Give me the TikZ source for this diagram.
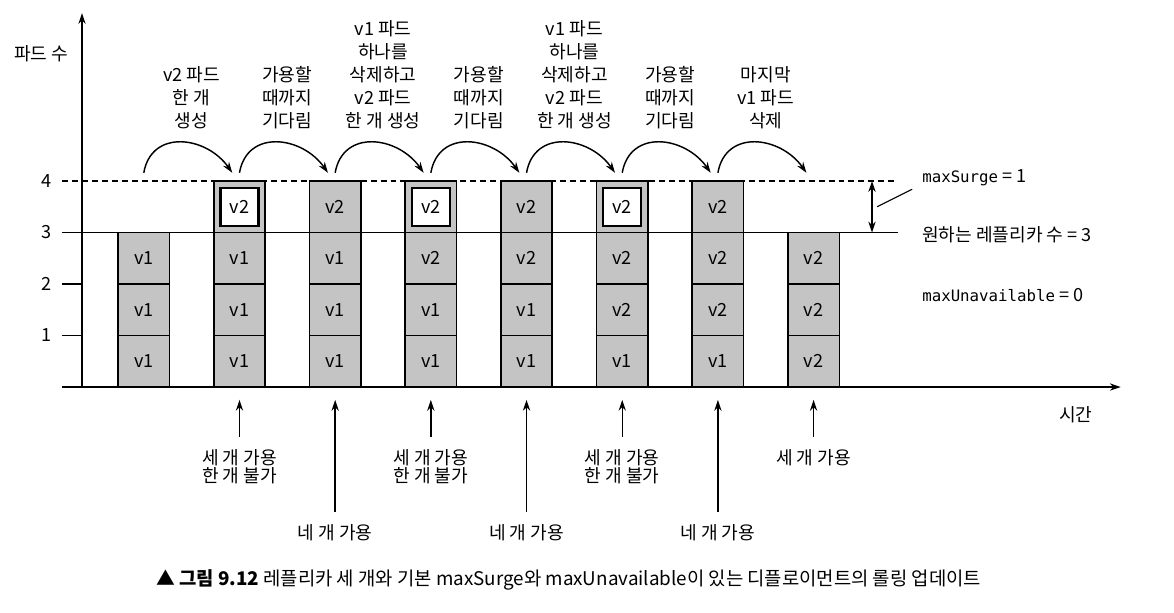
\documentclass[tikz,border=0pt]{standalone}
\usepackage{fontspec}
\setmainfont{Noto Sans CJK KR}
\newfontfamily\monofont{DejaVu Sans Mono}
\usepackage{tikz}
\usetikzlibrary{positioning, arrows.meta}
\definecolor{podgray}{gray}{0.77}

\begin{document}
\begin{tikzpicture}[
    font=\fontsize{10}{12}\selectfont,
    >={Stealth[length=6pt,width=4pt]},
    pod/.style={draw, line width=0.9pt, fill=podgray, minimum width=1cm, minimum height=1cm, inner sep=0pt, outer sep=0pt},
    newbox/.style={draw, line width=1.3pt, fill=white, minimum width=0.74cm, minimum height=0.74cm, inner sep=0pt},
    toplbl/.style={anchor=south, align=center, inner sep=0pt, font=\fontsize{10}{12.8}\selectfont},
    botlbl/.style={anchor=north, align=center, inner sep=0pt, font=\fontsize{10}{10.4}\selectfont},
    hop/.style={->, line width=0.8pt, out=80, in=125, looseness=1.3},
    uparrow/.style={->, line width=0.8pt, shorten <=0.23cm}
]
    \useasboundingbox (-1.592,-4.369) rectangle (21.204,7.515);

    % Assi
    \coordinate (O) at (0,0);
    \coordinate (xstart) at (-0.388,0);
    \coordinate (xend) at (20.17,0);
    \coordinate (yend) at (0,7.26);
    \draw[line width=0.8pt, ->] (xstart) -- (xend);
    \draw[line width=0.8pt, ->] (O) -- (yend);
    \draw[line width=0.8pt] (-0.388,1) -- (0,1);
    \draw[line width=0.8pt] (-0.388,2) -- (0,2);
    \node (ylab) at (-0.79,6.48) {파드 수};
    \node (xlab) at (19.30,-0.54) {시간};
    \node (t1) at (-0.68,1) {1};
    \node (t2) at (-0.68,2) {2};
    \node (t3) at (-0.68,3) {3};
    \node (t4) at (-0.68,4) {4};

    % Livelli 3 e 4
    \draw[line width=0.7pt, dash pattern=on 3.3pt off 2.2pt] (-0.388,4) -- (15.79,4);
    \draw[line width=0.7pt] (-0.388,3) -- (15.84,3);

    % Colonna 1
    \node[pod] (p11) at (1.2,0.5) {v1};
    \node[pod, above=0pt of p11] (p12) {v1};
    \node[pod, above=0pt of p12] (p13) {v1};

    % Colonna 2
    \node[pod] (p21) at (3.058,0.5) {v1};
    \node[pod, above=0pt of p21] (p22) {v1};
    \node[pod, above=0pt of p22] (p23) {v1};
    \node[pod, above=0pt of p23] (p24) {};
    \node[newbox] (n2) at (p24) {v2};

    % Colonna 3
    \node[pod] (p31) at (4.916,0.5) {v1};
    \node[pod, above=0pt of p31] (p32) {v1};
    \node[pod, above=0pt of p32] (p33) {v1};
    \node[pod, above=0pt of p33] (p34) {v2};

    % Colonna 4
    \node[pod] (p41) at (6.774,0.5) {v1};
    \node[pod, above=0pt of p41] (p42) {v1};
    \node[pod, above=0pt of p42] (p43) {v2};
    \node[pod, above=0pt of p43] (p44) {};
    \node[newbox] (n4) at (p44) {v2};

    % Colonna 5
    \node[pod] (p51) at (8.632,0.5) {v1};
    \node[pod, above=0pt of p51] (p52) {v1};
    \node[pod, above=0pt of p52] (p53) {v2};
    \node[pod, above=0pt of p53] (p54) {v2};

    % Colonna 6
    \node[pod] (p61) at (10.490,0.5) {v1};
    \node[pod, above=0pt of p61] (p62) {v2};
    \node[pod, above=0pt of p62] (p63) {v2};
    \node[pod, above=0pt of p63] (p64) {};
    \node[newbox] (n6) at (p64) {v2};

    % Colonna 7
    \node[pod] (p71) at (12.348,0.5) {v1};
    \node[pod, above=0pt of p71] (p72) {v2};
    \node[pod, above=0pt of p72] (p73) {v2};
    \node[pod, above=0pt of p73] (p74) {v2};

    % Colonna 8
    \node[pod] (p81) at (14.206,0.5) {v2};
    \node[pod, above=0pt of p81] (p82) {v2};
    \node[pod, above=0pt of p82] (p83) {v2};

    % Frecce tra i passi
    \coordinate (s1) at (1.2,4.16);    \coordinate (e1) at (2.918,4.16);
    \coordinate (s2) at (3.058,4.16);  \coordinate (e2) at (4.776,4.16);
    \coordinate (s3) at (4.916,4.16);  \coordinate (e3) at (6.634,4.16);
    \coordinate (s4) at (6.774,4.16);  \coordinate (e4) at (8.492,4.16);
    \coordinate (s5) at (8.632,4.16);  \coordinate (e5) at (10.350,4.16);
    \coordinate (s6) at (10.490,4.16); \coordinate (e6) at (12.208,4.16);
    \coordinate (s7) at (12.348,4.16); \coordinate (e7) at (14.066,4.16);
    \draw[hop] (s1) to (e1);
    \draw[hop] (s2) to (e2);
    \draw[hop] (s3) to (e3);
    \draw[hop] (s4) to (e4);
    \draw[hop] (s5) to (e5);
    \draw[hop] (s6) to (e6);
    \draw[hop] (s7) to (e7);

    % Etichette sopra
    \node[toplbl] (l1) at (2.129,5.0) {v2 파드\\한 개\\생성};
    \node[toplbl] (l2) at (3.987,5.0) {가용할\\때까지\\기다림};
    \node[toplbl] (l3) at (5.845,5.0) {v1 파드\\하나를\\삭제하고\\v2 파드\\한 개 생성};
    \node[toplbl] (l4) at (7.703,5.0) {가용할\\때까지\\기다림};
    \node[toplbl] (l5) at (9.561,5.0) {v1 파드\\하나를\\삭제하고\\v2 파드\\한 개 생성};
    \node[toplbl] (l6) at (11.419,5.0) {가용할\\때까지\\기다림};
    \node[toplbl] (l7) at (13.277,5.0) {마지막\\v1 파드\\삭제};

    % maxSurge e repliche
    \coordinate (sg4) at (15.34,4);
    \coordinate (sg3) at (15.34,3);
    \draw[<->, line width=0.8pt] (sg4) -- (sg3);
    \coordinate (lead) at (15.44,3.50);
    \coordinate (leadend) at (16.12,3.84);
    \draw[line width=0.6pt] (lead) -- (leadend);
    \node[anchor=west, inner sep=0pt] (ms) at (16.31,4.06) {{\monofont\fontsize{8.7}{10}\selectfont maxSurge} = 1};
    \node[anchor=west, inner sep=0pt] (rep) at (16.31,2.95) {원하는 레플리카 수 = 3};
    \node[anchor=west, inner sep=0pt] (mu) at (16.31,1.79) {{\monofont\fontsize{8.7}{10}\selectfont maxUnavailable} = 0};

    % Frecce sotto
    \coordinate (a2) at (3.058,-0.25);
    \coordinate (a3) at (4.916,-0.25);
    \coordinate (a4) at (6.774,-0.25);
    \coordinate (a5) at (8.632,-0.25);
    \coordinate (a6) at (10.490,-0.25);
    \coordinate (a7) at (12.348,-0.25);
    \coordinate (a8) at (14.206,-0.25);
    \node[botlbl] (b2) at (3.058,-1.2) {세 개 가용\\한 개 불가};
    \node[botlbl] (b3) at (4.916,-2.66) {네 개 가용};
    \node[botlbl] (b4) at (6.774,-1.2) {세 개 가용\\한 개 불가};
    \node[botlbl] (b5) at (8.632,-2.66) {네 개 가용};
    \node[botlbl] (b6) at (10.490,-1.2) {세 개 가용\\한 개 불가};
    \node[botlbl] (b7) at (12.348,-2.66) {네 개 가용};
    \node[botlbl] (b8) at (14.206,-1.2) {세 개 가용};
    \draw[uparrow] (b2.north) -- (a2);
    \draw[uparrow] (b3.north) -- (a3);
    \draw[uparrow] (b4.north) -- (a4);
    \draw[uparrow] (b5.north) -- (a5);
    \draw[uparrow] (b6.north) -- (a6);
    \draw[uparrow] (b7.north) -- (a7);
    \draw[uparrow] (b8.north) -- (a8);

    % Didascalia
    \node[font=\fontsize{10.4}{12}\selectfont] (cap) at (9.45,-3.75) {{\bfseries ▲ 그림 9.12} 레플리카 세 개와 기본 maxSurge와 maxUnavailable이 있는 디플로이먼트의 롤링 업데이트};
\end{tikzpicture}
\end{document}
